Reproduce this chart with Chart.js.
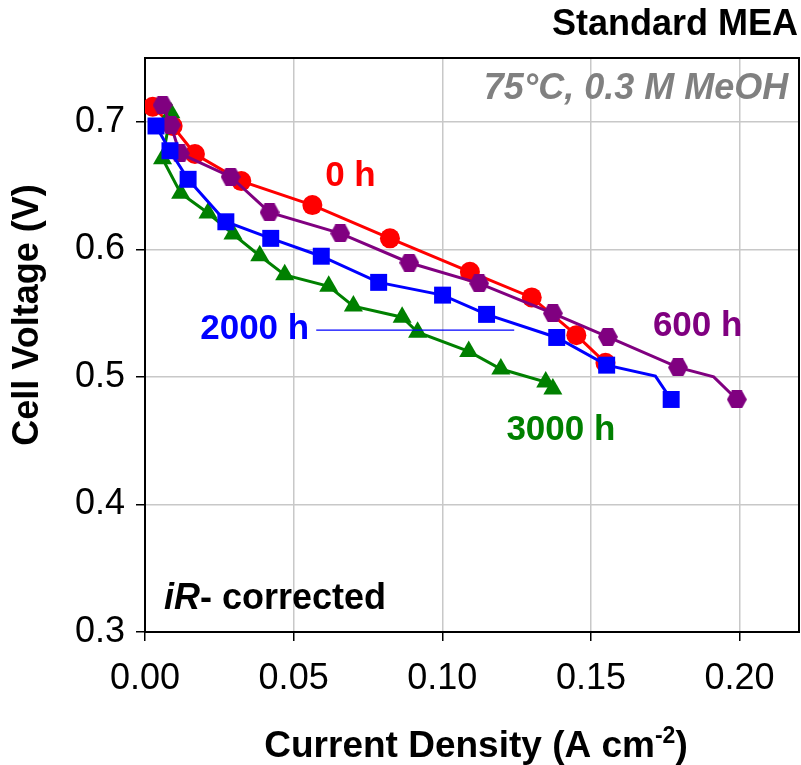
<!DOCTYPE html>
<html>
<head>
<meta charset="utf-8">
<script src="https://cdn.jsdelivr.net/npm/chart.js@4.4.0/dist/chart.umd.min.js"></script>
<style>
  html, body { margin: 0; padding: 0; background: #fff; }
  #wrap { width: 801px; height: 765px; }
</style>
</head>
<body>
<div id="wrap"><canvas id="chart" width="801" height="765"></canvas></div>
<script>
// polarisation curves (A cm-2, V)
const j0h = [0.0026, 0.0093, 0.0168, 0.0324, 0.0563, 0.0824, 0.1093, 0.1301, 0.1451, 0.1549];
const v0h = [0.7118, 0.6967, 0.6747, 0.6535, 0.6347, 0.6086, 0.5824, 0.5623, 0.5327, 0.5110];

const j600h = [0.0059, 0.0087, 0.0117, 0.0288, 0.0419, 0.0657, 0.0889, 0.1124, 0.1372, 0.1557, 0.1793, 0.1913, 0.1991];
const v600h = [0.7131, 0.6975, 0.6752, 0.6569, 0.6290, 0.6125, 0.5895, 0.5733, 0.5498, 0.5314, 0.5074, 0.5000, 0.4823];

const j2000h = [0.0037, 0.0084, 0.0145, 0.0272, 0.0423, 0.0593, 0.0786, 0.1001, 0.1149, 0.1385, 0.1553, 0.1717, 0.1770];
const v2000h = [0.6967, 0.6773, 0.6549, 0.6216, 0.6086, 0.5946, 0.5741, 0.5641, 0.5490, 0.5309, 0.5092, 0.5006, 0.4823];

const j3000h = [0.0087, 0.0059, 0.0120, 0.0212, 0.0296, 0.0386, 0.0470, 0.0618, 0.0701, 0.0865, 0.0917, 0.1089, 0.1197, 0.1348, 0.1372];
const v3000h = [0.7070, 0.6710, 0.6440, 0.6285, 0.6120, 0.5950, 0.5800, 0.5710, 0.5555, 0.5468, 0.5350, 0.5200, 0.5062, 0.4960, 0.4905];

// thin leader line next to the "2000 h" label
const leaderJ = [0.0576, 0.1242];
const leaderV = [0.5367, 0.5367];

const xTicks = [0.00, 0.05, 0.10, 0.15, 0.20];
const yTicks = [0.3, 0.4, 0.5, 0.6, 0.7];

// points drawn as bare line vertices (no marker)
const bareVertex = 11;

const FONT = '"Liberation Sans", Arial, sans-serif';

function pts(xs, ys) {
    return xs.map((x, i) => ({ x: x, y: ys[i] }));
}

// flat-topped hexagon marker
function hexagon(color, w, h) {
    const c = document.createElement('canvas');
    c.width = w; c.height = h;
    const g = c.getContext('2d');
    g.fillStyle = color;
    g.beginPath();
    g.moveTo(0, h / 2);
    g.lineTo(w / 4, 0);
    g.lineTo(3 * w / 4, 0);
    g.lineTo(w, h / 2);
    g.lineTo(3 * w / 4, h);
    g.lineTo(w / 4, h);
    g.closePath();
    g.fill();
    return c;
}

function curve(data, color, style, radius, skipIdx) {
    return {
        data: data,
        showLine: true,
        borderColor: color,
        backgroundColor: color,
        borderWidth: 3,
        pointStyle: style,
        pointRadius: ctx => (ctx.dataIndex === skipIdx ? 0 : radius),
        pointBorderWidth: 0,
        pointHoverRadius: radius,
        tension: 0
    };
}

// text annotations, anchored in data units
const notes = [
    { text: '0 h', x: 0.0691, y: 0.6575, color: '#ff0000', align: 'center' },
    { text: '2000 h', x: 0.0369, y: 0.5375, color: '#0000ff', align: 'center' },
    { text: '600 h', x: 0.1859, y: 0.5398, color: '#800080', align: 'center' },
    { text: '3000 h', x: 0.1399, y: 0.4582, color: '#008000', align: 'center' }
];

const decor = {
    id: 'decor',
    beforeDatasetsDraw(chart) {
        const { ctx, chartArea: a } = chart;
        ctx.save();
        ctx.strokeStyle = '#000';
        ctx.lineWidth = 2;
        ctx.strokeRect(a.left, a.top, a.right - a.left, a.bottom - a.top);
        ctx.restore();
    },
    afterDatasetsDraw(chart) {
        const { ctx, scales: { x, y } } = chart;
        ctx.save();
        ctx.textBaseline = 'middle';

        ctx.font = 'bold 35px ' + FONT;
        notes.forEach(n => {
            ctx.fillStyle = n.color;
            ctx.textAlign = n.align;
            ctx.fillText(n.text, x.getPixelForValue(n.x), y.getPixelForValue(n.y));
        });

        // iR- corrected
        ctx.fillStyle = '#000';
        ctx.textAlign = 'left';
        let px = x.getPixelForValue(0.0064);
        const py = y.getPixelForValue(0.3257);
        ctx.font = 'italic bold 36px ' + FONT;
        ctx.fillText('iR', px, py);
        px += ctx.measureText('iR').width;
        ctx.font = 'bold 36px ' + FONT;
        ctx.fillText('- corrected', px, py);

        // operating conditions
        ctx.fillStyle = '#808080';
        ctx.textAlign = 'right';
        ctx.font = 'italic bold 36px ' + FONT;
        ctx.fillText('75°C, 0.3 M MeOH', x.getPixelForValue(0.2164), y.getPixelForValue(0.7257));

        // heading
        ctx.fillStyle = '#000';
        ctx.font = 'bold 36px ' + FONT;
        ctx.fillText('Standard MEA', chart.width - 3, 25);

        // y axis title
        ctx.save();
        ctx.translate(28, 315);
        ctx.rotate(-Math.PI / 2);
        ctx.textAlign = 'center';
        ctx.font = 'bold 36px ' + FONT;
        ctx.fillText('Cell Voltage (V)', 0, 0);
        ctx.restore();

        // x axis title with superscript
        ctx.textBaseline = 'alphabetic';
        ctx.textAlign = 'left';
        const main = 'Current Density (A cm';
        ctx.font = 'bold 37px ' + FONT;
        const wMain = ctx.measureText(main).width;
        const wClose = ctx.measureText(')').width;
        ctx.font = 'bold 23px ' + FONT;
        const wSup = ctx.measureText('-2').width;
        let tx = 476 - (wMain + wSup + wClose) / 2;
        const base = 757;
        ctx.font = 'bold 37px ' + FONT;
        ctx.fillText(main, tx, base);
        tx += wMain;
        ctx.font = 'bold 23px ' + FONT;
        ctx.fillText('-2', tx, base - 14);
        tx += wSup;
        ctx.font = 'bold 37px ' + FONT;
        ctx.fillText(')', tx, base);

        ctx.restore();
    }
};

const hex = hexagon('#800080', 20, 18);

const datasets = [
    {
        data: pts(leaderJ, leaderV),
        showLine: true,
        borderColor: '#0000ff',
        borderWidth: 1.2,
        pointRadius: 0,
        pointHoverRadius: 0
    },
    curve(pts(j2000h, v2000h), '#0000ff', 'rect', 12, bareVertex),
    curve(pts(j600h, v600h), '#800080', hex, 10, bareVertex),
    curve(pts(j3000h, v3000h), '#008000', 'triangle', 11, -1),
    curve(pts(j0h, v0h), '#ff0000', 'circle', 10, -1)
];

new Chart(document.getElementById('chart'), {
    type: 'scatter',
    data: { datasets: datasets },
    options: {
        responsive: false,
        animation: false,
        devicePixelRatio: 1,
        layout: { autoPadding: false, padding: { top: 58, right: 2, left: 0, bottom: 0 } },
        plugins: {
            legend: { display: false },
            tooltip: { enabled: false }
        },
        scales: {
            x: {
                type: 'linear',
                min: 0,
                max: 0.22,
                afterBuildTicks: s => { s.ticks = xTicks.map(v => ({ value: v })); },
                afterFit: s => { s.height = 133; s.paddingLeft = 0; s.paddingRight = 0; },
                ticks: {
                    color: '#000',
                    font: { family: FONT, size: 36 },
                    padding: 16,
                    maxRotation: 0,
                    autoSkip: false,
                    callback: v => v.toFixed(2)
                },
                grid: { color: '#c8c8c8', lineWidth: 1.5, tickColor: '#000', tickLength: 9 },
                border: { display: true, color: '#000', width: 2 }
            },
            y: {
                type: 'linear',
                min: 0.3,
                max: 0.75,
                afterBuildTicks: s => { s.ticks = yTicks.map(v => ({ value: v })); },
                afterFit: s => { s.width = 145; s.paddingTop = 0; s.paddingBottom = 0; },
                ticks: {
                    color: '#000',
                    font: { family: FONT, size: 36 },
                    padding: 11,
                    autoSkip: false,
                    callback: v => v.toFixed(1)
                },
                grid: { color: '#c8c8c8', lineWidth: 1.5, tickColor: '#000', tickLength: 9 },
                border: { display: true, color: '#000', width: 2 }
            }
        }
    },
    plugins: [decor]
});
</script>
</body>
</html>
